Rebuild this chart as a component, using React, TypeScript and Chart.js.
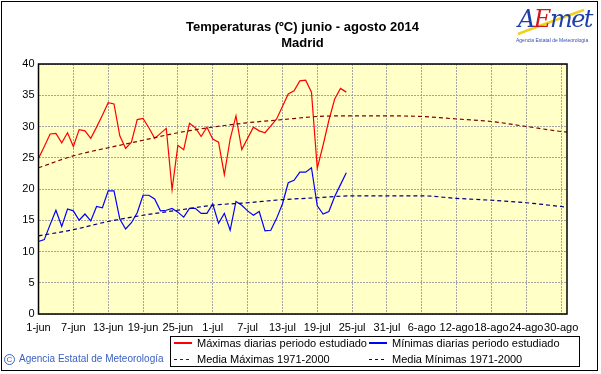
import React, { useEffect, useRef } from "react";
import { Chart, registerables } from "chart.js";

Chart.register(...registerables);

// ---- data ----
const tickDays = [0, 6, 12, 18, 24, 30, 36, 42, 48, 54, 60, 66, 72, 78, 84, 90];
const tickLabels = ["1-jun", "7-jun", "13-jun", "19-jun", "25-jun", "1-jul", "7-jul", "13-jul", "19-jul", "25-jul", "31-jul", "6-ago", "12-ago", "18-ago", "24-ago", "30-ago"];

// daily values from 1-jun (day 0) to 24-jul (day 53)
const maxDaily = [
  24.9, 26.8, 28.8, 28.9, 27.4, 29.0, 26.8, 29.5, 29.3, 28.1,
  29.9, 31.8, 33.8, 33.6, 28.5, 26.5, 27.5, 31.1, 31.3, 29.8,
  28.1, 28.9, 29.7, 19.9, 27.0, 26.3, 30.5, 29.8, 28.4, 29.9,
  28.0, 27.5, 22.3, 28.0, 31.7, 26.3, 28.1, 29.9, 29.3, 29.0,
  30.1, 31.2, 33.2, 35.2, 35.7, 37.3, 37.4, 35.5, 23.3, 27.0,
  31.0, 34.4, 36.1, 35.5,
];
const minDaily = [
  11.6, 11.9, 14.3, 16.6, 14.0, 16.8, 16.5, 15.0, 16.0, 14.9,
  17.2, 17.0, 19.7, 19.7, 15.2, 13.6, 14.6, 16.2, 19.0, 19.0,
  18.4, 16.5, 16.6, 16.9, 16.3, 15.5, 16.9, 16.9, 16.1, 16.1,
  17.6, 14.5, 16.1, 13.4, 18.0, 17.4, 16.5, 15.8, 16.4, 13.3,
  13.4, 15.3, 17.6, 21.0, 21.4, 22.7, 22.7, 23.4, 17.3, 16.0,
  16.4, 18.8, 20.7, 22.6,
];

// 1971-2000 means read at these days
const meanDays = [0, 6, 12, 18, 24, 30, 36, 42, 48, 54, 60, 66, 72, 78, 84, 90, 91];
const meanMax = [23.4, 25.3, 26.6, 27.8, 29.0, 29.9, 30.6, 31.1, 31.6, 31.7, 31.7, 31.6, 31.2, 30.8, 30.0, 29.2, 29.1];
const meanMin = [12.5, 13.5, 14.8, 15.8, 16.6, 17.4, 17.8, 18.3, 18.6, 18.9, 18.9, 18.9, 18.5, 18.2, 17.8, 17.2, 17.1];

const FONT = "'Liberation Sans', Arial, sans-serif";

const plotDecor = {
  id: "plotDecor",
  beforeDraw(chart: any) {
    const { ctx, chartArea: a } = chart;
    const pc = document.createElement("canvas");
    pc.width = 8;
    pc.height = 8;
    const p = pc.getContext("2d")!;
    p.fillStyle = "#FFFFC6";
    p.fillRect(0, 0, 8, 8);
    p.fillStyle = "#FFFFFF";
    p.fillRect(1, 1, 1, 1);
    p.fillRect(5, 5, 1, 1);
    ctx.save();
    ctx.fillStyle = ctx.createPattern(pc, "repeat");
    ctx.fillRect(a.left, a.top, a.right - a.left, a.bottom - a.top);
    ctx.restore();
  },
  afterDraw(chart: any) {
    const { ctx, chartArea: a } = chart;
    ctx.save();
    ctx.strokeStyle = "#000";
    ctx.lineWidth = 1.5;
    ctx.strokeRect(a.left, a.top, a.right - a.left, a.bottom - a.top);
    ctx.restore();
  },
};

function ChartCanvas() {
  const ref = useRef<HTMLCanvasElement | null>(null);
  useEffect(() => {
    const toXY = (xs: number[], ys: number[]) => ys.map((y, i) => ({ x: xs[i], y }));
    const idx = maxDaily.map((_, i) => i);
    const chart = new Chart(ref.current!, {
      type: "line",
      data: {
        datasets: [
          { label: "Media Máximas 1971-2000", data: toXY(meanDays, meanMax), borderColor: "#800000", borderWidth: 1.2, borderDash: [4, 3], pointRadius: 0, cubicInterpolationMode: "monotone" },
          { label: "Media Mínimas 1971-2000", data: toXY(meanDays, meanMin), borderColor: "#000080", borderWidth: 1.2, borderDash: [4, 3], pointRadius: 0, cubicInterpolationMode: "monotone" },
          { label: "Máximas diarias periodo estudiado", data: toXY(idx, maxDaily), borderColor: "#FF0000", borderWidth: 1.2, pointRadius: 0, tension: 0 },
          { label: "Mínimas diarias periodo estudiado", data: toXY(idx, minDaily), borderColor: "#0000FF", borderWidth: 1.2, pointRadius: 0, tension: 0 },
        ],
      },
      options: {
        animation: false,
        responsive: false,
        maintainAspectRatio: false,
        layout: { padding: { left: 0, top: 64, right: 34, bottom: 40 } },
        plugins: { legend: { display: false }, title: { display: false }, tooltip: { enabled: false } },
        scales: {
          x: {
            type: "linear",
            min: 0,
            max: 91,
            afterBuildTicks: (s: any) => {
              s.ticks = tickDays.map((v) => ({ value: v }));
            },
            afterFit: (s: any) => {
              s.height = 20;
            },
            grid: { color: "#a4a4a4", lineWidth: 1, drawTicks: false },
            border: { display: false, dash: [2, 1] },
            ticks: {
              autoSkip: false,
              maxRotation: 0,
              padding: 7,
              color: "#000",
              font: { family: FONT, size: 11 },
              callback: (_v: any, i: number) => tickLabels[i],
            },
          },
          y: {
            min: 0,
            max: 40,
            afterFit: (s: any) => {
              s.width = 38.5;
            },
            grid: { color: "#a4a4a4", lineWidth: 1, drawTicks: false },
            border: { display: false, dash: [2, 1] },
            ticks: { stepSize: 5, padding: 4, color: "#000", font: { family: FONT, size: 11 } },
          },
        },
      },
      plugins: [plotDecor],
    } as any);
    return () => chart.destroy();
  }, []);
  return <canvas ref={ref} width={601} height={374} style={{ position: "absolute", left: 0, top: 0 }} />;
}

const legendRow: React.CSSProperties = { position: "absolute", fontSize: 11, fontFamily: FONT, color: "#000", whiteSpace: "nowrap", lineHeight: "13px" };

function LegendLine({ color, dashed }: { color: string; dashed?: boolean }) {
  const bg = dashed
    ? `repeating-linear-gradient(to right, ${color} 0px, ${color} 3px, transparent 3px, transparent 6px)`
    : color;
  return (
    <span style={{ display: "inline-block", width: 18, height: dashed ? 1 : 2, background: bg, verticalAlign: "middle", marginRight: 5, position: "relative", top: -1 }} />
  );
}

export default function App() {
  useEffect(() => {
    document.body.style.margin = "0";
  }, []);
  return (
    <div style={{ position: "relative", width: 601, height: 374, background: "#fff", fontFamily: FONT, overflow: "hidden" }}>
      <div style={{ position: "absolute", left: 1, top: 1, width: 595, height: 368, border: "1px solid #000", boxSizing: "content-box" }} />
      <ChartCanvas />
      <div style={{ position: "absolute", left: 0, width: 601, top: 19, textAlign: "center", fontWeight: "bold", fontSize: 13, lineHeight: "16px", color: "#000" }}>
        <div style={{ paddingLeft: 4 }}>Temperaturas (ºC) junio - agosto 2014</div>
        <div style={{ paddingLeft: 4 }}>Madrid</div>
      </div>
      {/* logo */}
      <svg style={{ position: "absolute", left: 514, top: 4 }} width={82} height={40}>
        <path d="M4 30 Q 30 20 70 6" stroke="#f2d020" strokeWidth={2.5} fill="none" />
      </svg>
      <div style={{ position: "absolute", left: 518, top: 4, fontFamily: "'DejaVu Serif', serif", fontStyle: "italic", fontSize: 24, lineHeight: "30px", letterSpacing: -1.5 }}>
        <span style={{ color: "#1f3fa8" }}>A</span>
        <span style={{ color: "#d01818" }}>E</span>
        <span style={{ color: "#1f3fa8" }}>met</span>
      </div>
      <div style={{ position: "absolute", left: 516, top: 37, fontSize: 5, color: "#3050b0", whiteSpace: "nowrap" }}>Agencia Estatal de Meteorología</div>
      {/* legend */}
      <div style={{ position: "absolute", left: 170, top: 336, width: 410, height: 31, border: "1px solid #000", boxSizing: "border-box", background: "#fff" }} />
      <div style={{ ...legendRow, left: 174, top: 337 }}>
        <LegendLine color="#FF0000" />Máximas diarias periodo estudiado
      </div>
      <div style={{ ...legendRow, left: 369, top: 337 }}>
        <LegendLine color="#0000FF" />Mínimas diarias periodo estudiado
      </div>
      <div style={{ ...legendRow, left: 174, top: 353 }}>
        <LegendLine color="#800000" dashed />Media Máximas 1971-2000
      </div>
      <div style={{ ...legendRow, left: 369, top: 353 }}>
        <LegendLine color="#000080" dashed />Media Mínimas 1971-2000
      </div>
      <div style={{ position: "absolute", left: 4, top: 353, fontSize: 10, color: "#3a60c0", whiteSpace: "nowrap", fontFamily: FONT }}>
        <span style={{ display: "inline-block", width: 11, height: 11, borderRadius: "50%", border: "1px solid #3a60c0", boxSizing: "border-box", fontSize: 8, lineHeight: "9px", textAlign: "center", marginRight: 4, verticalAlign: "middle" }}>C</span>
        Agencia Estatal de Meteorología
      </div>
    </div>
  );
}
